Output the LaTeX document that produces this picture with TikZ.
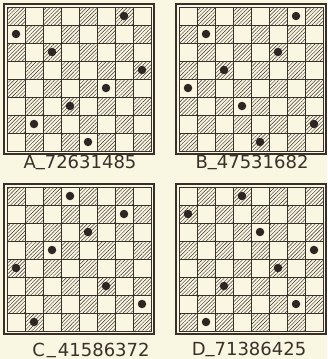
\documentclass[tikz,border=0pt]{standalone}
\usepackage{fontspec}
\usetikzlibrary{patterns.meta}
\newfontfamily\labfont{DejaVu Sans}
\definecolor{paper}{RGB}{249,246,226}
\definecolor{ink}{RGB}{58,48,42}
\tikzset{
 hatch/.style={pattern={Lines[angle=45,distance=2.6pt,line width=0.45pt]},pattern color=ink},
 gridline/.style={draw=ink,line width=0.8pt},
 boardframe/.style={draw=ink,line width=1.6pt},
 queen/.style={circle,fill=ink!80!black,inner sep=0pt,minimum size=8.5pt},
 boardlabel/.style={font=\labfont\fontsize{18}{18}\selectfont,text=ink,anchor=base,inner sep=0pt}
}
\newcommand\lowbar{\raisebox{0.16em}{\_}}
\newcommand\myboard[5]{%
 \foreach \i in {0,...,7}{\foreach \j in {0,...,7}{
   \pgfmathtruncatemacro\hp{mod(\i+\j+#4,2)}
   \ifnum\hp=0 \fill[hatch] (#2+\i*18,#3+\j*18) rectangle ++(18,18);\fi
 }}
 \foreach \k in {1,...,7}{
   \draw[gridline] (#2+\k*18,#3) -- (#2+\k*18,#3+144);
   \draw[gridline] (#2,#3+\k*18) -- (#2+144,#3+\k*18);
 }
 \draw[gridline] (#2,#3) rectangle (#2+144,#3+144);
 \draw[boardframe] (#2-3,#3-3) rectangle (#2+147,#3+147);
 \foreach \r [count=\c] in {#5}{
   \node[queen] (#1q\c) at (#2+\c*18-9,#3+144-\r*18+9) {};
 }
}
\begin{document}
\begin{tikzpicture}[x=1pt,y=-1pt]
\fill[paper] (0,0) rectangle (327,359);
\useasboundingbox (0,0) rectangle (327,359);
\myboard{A}{7}{7}{0}{7,2,6,3,1,4,8,5}
\myboard{B}{179}{7}{1}{4,7,5,3,1,6,8,2}
\myboard{C}{7}{187}{0}{4,1,5,8,6,3,7,2}
\myboard{D}{179}{187}{1}{7,1,3,8,6,4,2,5}
\node[boardlabel] (labA) at (80,168) {A\lowbar 72631485};
\node[boardlabel] (labB) at (252,168) {B\lowbar 47531682};
\node[boardlabel] (labC) at (91,356) {C\kern2pt\lowbar\kern2pt 41586372};
\node[boardlabel] (labD) at (249,355) {D\lowbar 71386425};
\end{tikzpicture}
\end{document}
